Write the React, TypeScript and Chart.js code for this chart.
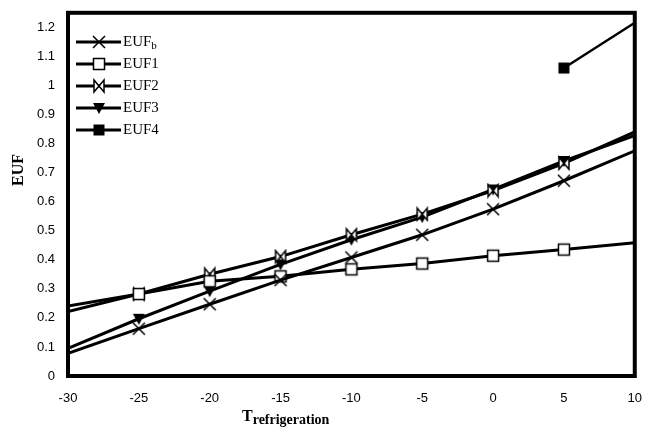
import React, { useEffect, useRef } from 'react';
import { Chart, registerables } from 'chart.js';

Chart.register(...registerables);

const temps = [-30, -25, -20, -15, -10, -5, 0, 5, 10];
const eufB = [0.078, 0.163, 0.247, 0.33, 0.408, 0.486, 0.574, 0.672, 0.775];
const euf1 = [0.241, 0.282, 0.326, 0.343, 0.367, 0.387, 0.414, 0.435, 0.459];
const euf2 = [0.222, 0.282, 0.35, 0.411, 0.486, 0.557, 0.638, 0.732, 0.84];
const euf3 = [0.095, 0.197, 0.292, 0.384, 0.469, 0.547, 0.642, 0.74, 0.828];
const euf4 = [null, null, null, null, null, null, null, 1.06, 1.216];
const xTicks = [-30, -25, -20, -15, -10, -5, 0, 5, 10];
const yTicks = [0, 0.1, 0.2, 0.3, 0.4, 0.5, 0.6, 0.7, 0.8, 0.9, 1, 1.1, 1.2];

function makeMarker(kind: string): HTMLCanvasElement {
  const S = 16;
  const c = document.createElement('canvas');
  c.width = S;
  c.height = S;
  const g = c.getContext('2d')!;
  const m = S / 2;
  g.lineWidth = 1.5;
  g.strokeStyle = '#000';
  g.fillStyle = '#000';
  if (kind === 'cross') {
    g.beginPath();
    g.moveTo(m - 6, m - 6);
    g.lineTo(m + 6, m + 6);
    g.moveTo(m + 6, m - 6);
    g.lineTo(m - 6, m + 6);
    g.stroke();
  } else if (kind === 'square') {
    g.fillStyle = '#fff';
    g.fillRect(m - 5.5, m - 5.5, 11, 11);
    g.strokeRect(m - 5.5, m - 5.5, 11, 11);
  } else if (kind === 'bowtie') {
    g.fillStyle = '#fff';
    g.beginPath();
    g.moveTo(m - 5, m - 6);
    g.lineTo(m + 5, m + 6);
    g.lineTo(m + 5, m - 6);
    g.lineTo(m - 5, m + 6);
    g.closePath();
    g.fill();
    g.stroke();
  } else if (kind === 'triangle') {
    g.beginPath();
    g.moveTo(m - 6, m - 5);
    g.lineTo(m + 6, m - 5);
    g.lineTo(m, m + 6);
    g.closePath();
    g.fill();
  } else if (kind === 'fsquare') {
    g.fillRect(m - 5.5, m - 5.5, 11, 11);
  }
  return c;
}

export default function App() {
  const ref = useRef<HTMLCanvasElement | null>(null);

  useEffect(() => {
    if (!ref.current) return;
    const markers = {
      b: makeMarker('cross'),
      one: makeMarker('square'),
      two: makeMarker('bowtie'),
      three: makeMarker('triangle'),
      four: makeMarker('fsquare'),
    };
    const radius = (ctx: any) => {
      const t = temps[ctx.dataIndex];
      return t === -30 || t === 10 ? 0 : 6;
    };
    const mk = (label: string, arr: (number | null)[], style: HTMLCanvasElement, width: number) => ({
      label,
      data: temps.map((t, i) => ({ x: t, y: arr[i] })),
      borderColor: '#000',
      backgroundColor: '#000',
      borderWidth: width,
      pointStyle: style,
      pointRadius: radius,
      pointHoverRadius: radius,
      tension: 0,
      spanGaps: false,
    });

    const legendEntries = [
      { text: 'EUF', sub: 'b', m: markers.b },
      { text: 'EUF1', sub: '', m: markers.one },
      { text: 'EUF2', sub: '', m: markers.two },
      { text: 'EUF3', sub: '', m: markers.three },
      { text: 'EUF4', sub: '', m: markers.four },
    ];

    const decor = {
      id: 'decor',
      afterDraw(chart: any) {
        const { ctx, chartArea } = chart;
        ctx.save();
        ctx.strokeStyle = '#000';
        ctx.lineWidth = 4;
        ctx.strokeRect(chartArea.left, chartArea.top, chartArea.right - chartArea.left, chartArea.bottom - chartArea.top);
        legendEntries.forEach((e, i) => {
          const y = 42 + i * 22;
          ctx.lineWidth = 3;
          ctx.beginPath();
          ctx.moveTo(76, y);
          ctx.lineTo(121, y);
          ctx.stroke();
          ctx.drawImage(e.m, 99 - e.m.width / 2, y - e.m.height / 2);
          ctx.fillStyle = '#000';
          ctx.font = '15px "Liberation Serif"';
          ctx.textBaseline = 'middle';
          ctx.textAlign = 'left';
          ctx.fillText(e.text, 123, y);
          if (e.sub) {
            const w = ctx.measureText(e.text).width;
            ctx.font = '11px "Liberation Serif"';
            ctx.fillText(e.sub, 123 + w, y + 4);
          }
        });
        ctx.save();
        ctx.translate(19, 170);
        ctx.rotate(-Math.PI / 2);
        ctx.font = 'bold 16px "Liberation Serif"';
        ctx.textAlign = 'center';
        ctx.textBaseline = 'middle';
        ctx.fillText('EUF', 0, 0);
        ctx.restore();
        ctx.textAlign = 'left';
        ctx.textBaseline = 'alphabetic';
        ctx.font = 'bold 16px "Liberation Serif"';
        ctx.fillText('T', 242, 421);
        const tw = ctx.measureText('T').width;
        ctx.font = 'bold 14px "Liberation Serif"';
        ctx.fillText('refrigeration', 242 + tw, 424);
        ctx.restore();
      },
    };

    const chart = new Chart(ref.current, {
      type: 'line',
      data: {
        datasets: [
          mk('EUFb', eufB, markers.b, 3),
          mk('EUF1', euf1, markers.one, 3),
          mk('EUF2', euf2, markers.two, 3),
          mk('EUF3', euf3, markers.three, 3),
          mk('EUF4', euf4, markers.four, 2.5),
        ] as any,
      },
      options: {
        animation: false,
        responsive: true,
        maintainAspectRatio: false,
        layout: { padding: { left: 0, right: 14, top: 7, bottom: 0 } },
        plugins: { legend: { display: false }, tooltip: { enabled: false } },
        events: [],
        scales: {
          x: {
            type: 'linear',
            min: -30,
            max: 10,
            grid: { display: false },
            border: { display: false },
            afterBuildTicks: (s: any) => {
              s.ticks = xTicks.map((v) => ({ value: v }));
            },
            afterFit: (s: any) => {
              s.height = 57;
            },
            ticks: {
              color: '#000',
              padding: 7,
              font: { family: '"Liberation Sans"', size: 13 },
              callback: (v: any) => String(v),
              maxRotation: 0,
              autoSkip: false,
            },
          },
          y: {
            type: 'linear',
            min: 0,
            max: 1.25,
            grid: { display: false },
            border: { display: false },
            afterBuildTicks: (s: any) => {
              s.ticks = yTicks.map((v) => ({ value: v }));
            },
            afterFit: (s: any) => {
              s.width = 68;
            },
            ticks: {
              color: '#000',
              padding: 5,
              autoSkip: false,
              font: { family: '"Liberation Sans"', size: 13 },
              callback: (v: any) => String(Math.round(Number(v) * 10) / 10),
            },
          },
        },
      },
      plugins: [decor],
    } as any);
    return () => chart.destroy();
  }, []);

  return (
    <div style={{ position: 'absolute', left: 0, top: 0, width: 649, height: 433, background: '#fff' }}>
      <canvas ref={ref} />
    </div>
  );
}
